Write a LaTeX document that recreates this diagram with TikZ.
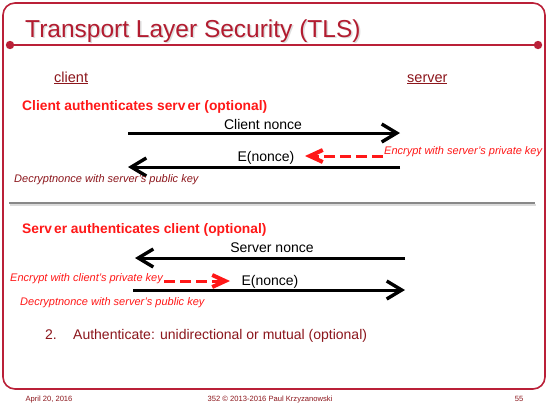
\documentclass[tikz,border=0pt]{standalone}
\usepackage{fontspec}
\setmainfont{Liberation Sans}
\usetikzlibrary{arrows.meta}
\definecolor{framered}{RGB}{186,32,56}
\definecolor{titlered}{RGB}{178,28,48}
\definecolor{darkred}{RGB}{140,22,28}
\definecolor{hotred}{RGB}{255,24,24}
\definecolor{sepgray}{RGB}{136,136,136}
\tikzset{
  msg/.style={line width=3pt,
    -{Straight Barb[length=15pt,width=18pt,line width=3.4pt]}},
  hint/.style={hotred, line width=3pt, dash pattern=on 11pt off 5pt,
    -{Straight Barb[length=13pt,width=12pt,line width=4pt]}},
  lbl/.style={anchor=base, inner sep=0pt, font=\fontsize{14}{16}\selectfont},
  head/.style={anchor=base west, inner sep=0pt, text=hotred,
    font=\fontsize{13.8}{16}\selectfont\bfseries},
  note/.style={anchor=base west, inner sep=0pt,
    font=\fontsize{11}{12}\selectfont\itshape},
  party/.style={anchor=base west, inner sep=0pt, text=darkred,
    font=\fontsize{14.5}{16}\selectfont},
  foot/.style={anchor=base, inner sep=0pt, text=darkred,
    font=\fontsize{7.6}{9}\selectfont},
}
\begin{document}
\begin{tikzpicture}[x=1pt,y=-1pt]
\useasboundingbox (0,0) rectangle (548,405);
\fill[white] (0,0) rectangle (548,405);

% slide frame and title bar
\draw[framered, line width=1.6pt, rounded corners=12pt] (3,3) rectangle (545,389);
\draw[framered, line width=2.6pt] (10,45) -- (538,45);
\fill[framered] (10,45) circle (4.2pt) (538,45) circle (4.2pt);
\node[anchor=base west, inner sep=0pt, text=black!13, font=\fontsize{24.5}{28}\selectfont]
  at (26.5,38.5) {Transport Layer Security (TLS)};
\node[anchor=base west, inner sep=0pt, text=titlered, font=\fontsize{24.5}{28}\selectfont]
  (title) at (25,37) {Transport Layer Security (TLS)};

% parties
\node[party] (client) at (54,82) {\underline{client}};
\node[party] (server) at (407,82) {\underline{server}};

% client authenticates server
\node[head] (h1) at (22,110) {Client authenticates serv\kern2pt er (optional)};
\coordinate (cn0) at (128,133);
\coordinate (cn1) at (400,133);
\node[lbl] (cnl) at (263,129) {Client nonce};
\coordinate (en0) at (400,167);
\coordinate (en1) at (128,167);
\node[lbl] (enl) at (266,161) {E(nonce)};
\coordinate (ed0) at (383,156);
\coordinate (ed1) at (305,156);
\draw[msg] (cn0) -- (cn1);
\draw[msg] (en0) -- (en1);
\draw[hint] (ed0) -- (ed1);
\node[note, text=hotred] (enc1) at (384,154) {Encrypt with server's private key};
\node[note, text=darkred] (dec1) at (14,182) {Decryptnonce with server's public key};

% separator
\draw[black!14, line width=2pt] (10,204.8) -- (536,204.8);
\draw[sepgray, line width=1.8pt] (9,203) -- (535,203);

% server authenticates client
\node[head] (h2) at (22,233) {Serv\kern2pt er authenticates client (optional)};
\coordinate (sn0) at (405,258);
\coordinate (sn1) at (135,258);
\node[lbl] (snl) at (272,252) {Server nonce};
\coordinate (ee0) at (133,290);
\coordinate (ee1) at (405,290);
\node[lbl] (eel) at (270,285) {E(nonce)};
\coordinate (ec0) at (164,281);
\coordinate (ec1) at (230,281);
\draw[msg] (sn0) -- (sn1);
\draw[msg] (ee0) -- (ee1);
\draw[hint] (ec0) -- (ec1);
\node[note, text=hotred] (enc2) at (10,281) {Encrypt with client's private key};
\node[note, text=hotred] (dec2) at (20,305) {Decryptnonce with server's public key};

% bullet point
\node[anchor=base west, inner sep=0pt, text=darkred, font=\fontsize{14}{16}\selectfont]
  (b2n) at (45,339) {2.};
\node[anchor=base west, inner sep=0pt, text=darkred, font=\fontsize{14}{16}\selectfont]
  (b2) at (73,339) {Authenticate: unidirectional or mutual (optional)};

% footer
\node[foot] (date) at (49,401) {April 20, 2016};
\node[foot] (copy) at (270,401) {352 © 2013-2016 Paul Krzyzanowski};
\node[foot] (page) at (519,401) {55};
\end{tikzpicture}
\end{document}
